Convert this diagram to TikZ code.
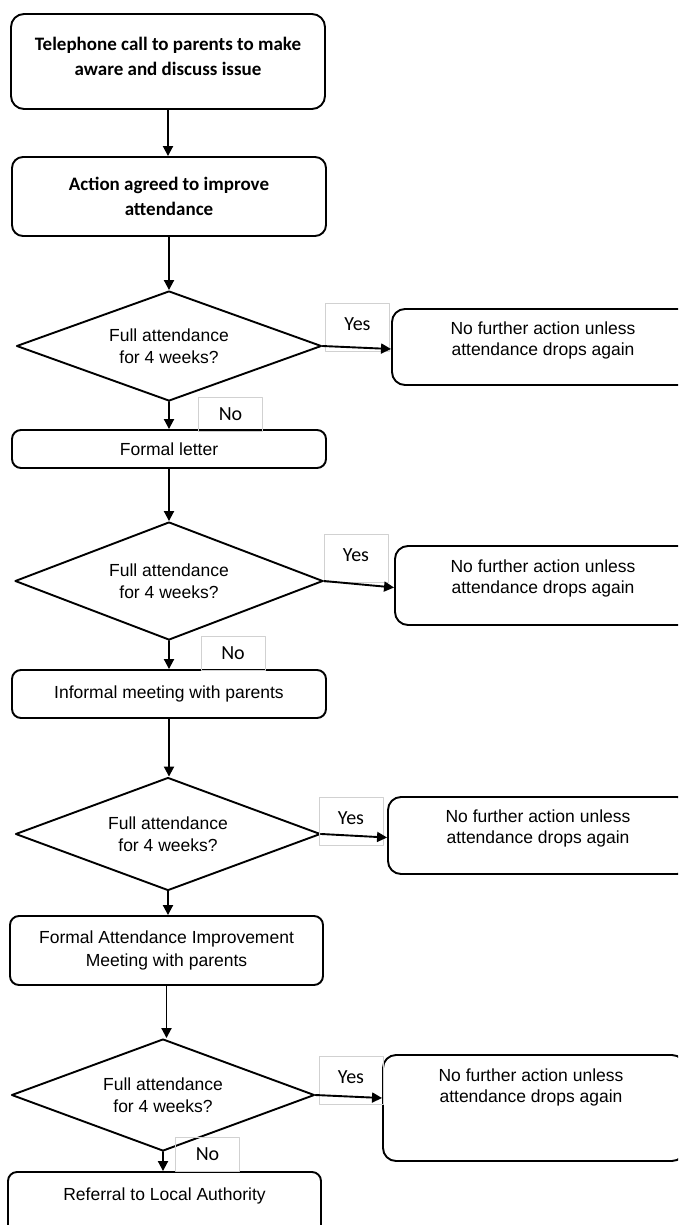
\documentclass[tikz,border=0pt]{standalone}
\usepackage{fontspec}
\setmainfont{Liberation Sans}
\newfontfamily\calibri{Carlito}
\usetikzlibrary{shapes.geometric,arrows.meta}

\begin{document}
\begin{tikzpicture}[x=1pt,y=-1pt,line join=round,line cap=round,>={Triangle[length=10pt,width=10pt]},
	box/.style={draw,line width=1.9pt,rounded corners=9pt,inner sep=0pt,minimum width=314pt,align=center,
		font=\fontsize{17.5}{23}\selectfont},
	bigbox/.style={box,rounded corners=13pt,font=\calibri\bfseries\fontsize{19}{25}\selectfont},
	decision/.style={diamond,draw,line width=1.9pt,aspect=2.8,inner sep=0pt,minimum width=305pt,align=center,
		font=\fontsize{17.5}{22}\selectfont},
	sidebox/.style={draw,line width=1.9pt,rounded corners=13pt,minimum width=302pt,inner sep=0pt},
	sidetext/.style={align=center,inner sep=0pt,font=\fontsize{17.5}{21}\selectfont},
	tag/.style={draw=black!18,line width=0.8pt,minimum width=64pt,inner sep=0pt,font=\calibri\fontsize{20}{22}\selectfont},
	link/.style={->,line width=1.9pt}]
	\useasboundingbox (0,0) rectangle (678,1225);
	\clip (0,0) rectangle (678,1225);
	% main column
	\node[bigbox,minimum height=95pt] (b1) at (168,61.5) {};
	\node[align=center,inner sep=0pt,font=\calibri\bfseries\fontsize{19}{25}\selectfont] (b1t) at (168,56)
		{Telephone call to parents to make\\aware and discuss issue};
	\node[bigbox,minimum height=79pt,rounded corners=11pt] (b2) at (169,196.5) {Action agreed to improve\\attendance};
	\node[decision,minimum height=110pt] (d1) at (169,346) {Full attendance\\for 4 weeks?};
	\node[box,minimum height=38pt] (b3) at (169,449) {Formal letter};
	\node[decision,minimum height=118pt,minimum width=308pt] (d2) at (169,581) {Full attendance\\for 4 weeks?};
	\node[box,minimum height=48pt] (b4) at (169,694) {Informal meeting with parents};
	\node[decision,minimum height=113pt] (d3) at (168,834) {Full attendance\\for 4 weeks?};
	\node[box,minimum height=69pt,minimum width=313pt] (b5) at (166.5,950.5) {Formal Attendance Improvement\\Meeting with parents};
	\node[decision,minimum height=112pt,minimum width=303pt] (d4) at (163,1095) {Full attendance\\for 4 weeks?};
	\node[box,minimum height=120pt,minimum width=313pt] (b6) at (164.5,1232) {};
	\node[sidetext] (b6t) at (164.5,1196) {Referral to Local Authority};
	% side boxes
	\foreach \n/\x/\y/\h/\tx/\ty in {r1/543/347/76/543/340.5,r2/546/585.5/79/543/578.5,
		r3/539/835.5/77/538/828,r4/534/1108/106/531/1087.5}{
		\node[sidebox,minimum height=\h pt] (\n) at (\x,\y) {};
		\node[sidetext] (\n t) at (\tx,\ty) {No further action unless\\attendance drops again};
	}
	% labels
	\foreach \n/\x/\y in {y1/357.5/327,y2/356/558,y3/351/821,y4/351/1080}
		\node[tag,minimum height=48pt] (\n) at (\x,\y) {\raisebox{5pt}{Yes}};
	\foreach \n/\x/\y in {n1/230.5/414,n2/233/653.5,n4/207.5/1154.5}
		\node[tag,minimum height=34pt] (\n) at (\x,\y) {No};
	% connectors
	\foreach \a/\b in {b1/b2,b2/d1,d1/b3,b3/d2,d2/b4,b4/d3,d3/b5,b5/d4,d4/b6}
		\draw[link] (\a.south) -- (\a.south |- \b.north);
	\foreach \i in {1,2,3}
		\draw[link] (d\i.east) -- ([yshift=-2pt]r\i.west);
	\draw[link] (d4.east) -- ([yshift=10pt]r4.west);
\end{tikzpicture}
\end{document}
